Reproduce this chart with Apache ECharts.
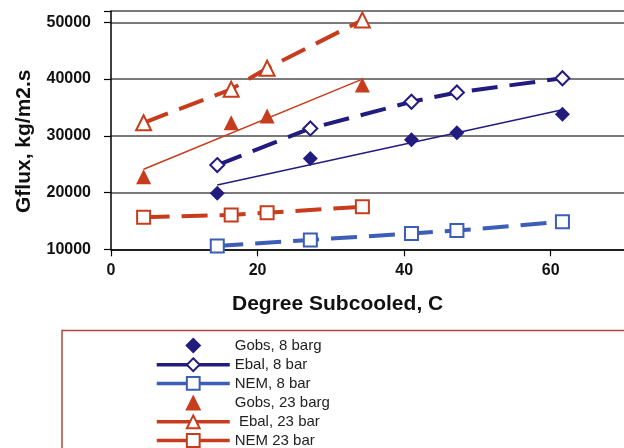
<!DOCTYPE html>
<html>
<head>
<meta charset="utf-8">
<script src="https://cdn.jsdelivr.net/npm/echarts@6/dist/echarts.min.js"></script>
<style>html,body{margin:0;padding:0;background:#fff}#c{width:624px;height:448px}</style>
</head>
<body>
<div id="c"></div>
<script>
// Degree subcooled (C) for each pressure
const x8 = [14.5, 27.2, 41.0, 47.2, 61.6];
const x23 = [4.45, 16.4, 21.3, 34.3];
// Gflux values, kg/m2.s
const gobs8 = [19900, 26000, 29300, 30550, 33800];
const ebal8 = [24850, 31300, 36000, 37650, 40150];
const nem8 = [10600, 11650, 12800, 13300, 14850];
const gobs23 = [22800, 32300, 33500, 38950];
const ebal23 = [32300, 38200, 41900, 50400];
const nem23 = [15650, 16050, 16450, 17500];
// trend line endpoints (x, Gflux)
const trend8 = [[14.5, 21350], [61.6, 34600]];
const trend23 = [[4.45, 24100], [34.3, 40000]];
const xTicks = [0, 20, 40, 60];
const yTicks = [10000, 20000, 30000, 40000, 50000];
const names = ['Gobs, 8 barg', 'Ebal, 8 bar', 'NEM, 8 bar', 'Gobs, 23 barg', ' Ebal, 23 bar', 'NEM 23 bar'];

const NAVY = '#221c7e', BLUE = '#3c5db8', RED = '#c63c1c';
const zip = (xs, ys) => xs.map((x, i) => [x, ys[i]]);
const DIAMOND = 'path://M0,-1L1,0L0,1L-1,0Z';
const TRIANGLE = 'path://M0,-1L1,1L-1,1Z';

const chart = echarts.init(document.getElementById('c'), null, {renderer: 'canvas'});
const dashed = (color) => ({color: color, width: 4, type: [26, 12]});

chart.setOption({
  animation: false,
  backgroundColor: '#fff',
  grid: {left: 111, top: 11, width: 516, height: 238.3, containLabel: false},
  xAxis: {
    type: 'value', min: 0, max: 70, interval: 20,
    axisLine: {onZero: false, lineStyle: {color: '#000', width: 1.5}},
    axisTick: {show: true, length: 7, lineStyle: {color: '#000', width: 1.2},
      customValues: xTicks},
    axisLabel: {margin: 13, fontFamily: 'Liberation Sans', fontWeight: 'bold', fontSize: 16, color: '#111',
      customValues: xTicks,
      formatter: v => (xTicks.indexOf(v) >= 0 ? String(v) : '')},
    splitLine: {show: false}
  },
  yAxis: {
    type: 'value', min: 10000, max: 52000, interval: 10000,
    axisLine: {show: true, lineStyle: {color: '#000', width: 1.5}},
    axisTick: {show: true, length: 7, lineStyle: {color: '#000', width: 1.2}},
    axisLabel: {margin: 20, fontFamily: 'Liberation Sans', fontWeight: 'bold', fontSize: 16, color: '#111',
      formatter: v => (yTicks.indexOf(v) >= 0 ? String(v) : '')},
    splitLine: {show: true, lineStyle: {color: '#7a7a7a', width: 1.8}}
  },
  legend: {
    orient: 'vertical', left: 155, top: 337.5, height: 140, padding: 0,
    itemWidth: 73, itemHeight: 16, itemGap: 3.7,
    symbolKeepAspect: true,
    lineStyle: {width: 3.5, type: 'solid'},
    data: [
      {name: names[0], icon: DIAMOND},
      {name: names[1]},
      {name: names[2]},
      {name: names[3], icon: TRIANGLE},
      {name: names[4]},
      {name: names[5]}
    ],
    textStyle: {fontFamily: 'Liberation Sans', fontSize: 15, color: '#222'}
  },
  series: [
    {name: 'trend8', type: 'line', data: trend8, showSymbol: false, symbol: 'none',
      lineStyle: {color: NAVY, width: 1.5}, z: 1, silent: true},
    {name: 'trend23', type: 'line', data: trend23, showSymbol: false, symbol: 'none',
      lineStyle: {color: RED, width: 1.5}, z: 1, silent: true},
    {name: names[0], type: 'scatter', data: zip(x8, gobs8), symbol: 'diamond', symbolSize: 15,
      itemStyle: {color: NAVY, opacity: 1}, z: 5},
    {name: names[1], type: 'line', data: zip(x8, ebal8), symbol: 'emptyDiamond', symbolSize: 14,
      lineStyle: dashed(NAVY), itemStyle: {color: NAVY, borderWidth: 2.2}, z: 4},
    {name: names[2], type: 'line', data: zip(x8, nem8), symbol: 'emptyRect', symbolSize: 13,
      lineStyle: dashed(BLUE), itemStyle: {color: BLUE, borderWidth: 2}, z: 4},
    {name: names[3], type: 'scatter', data: zip(x23, gobs23), symbol: 'triangle', symbolSize: 15,
      itemStyle: {color: RED, opacity: 1}, z: 5},
    {name: names[4], type: 'line', data: zip(x23, ebal23), symbol: 'emptyTriangle', symbolSize: 15,
      lineStyle: dashed(RED), itemStyle: {color: RED, borderWidth: 2.2}, z: 4},
    {name: names[5], type: 'line', data: zip(x23, nem23), symbol: 'emptyRect', symbolSize: 13,
      lineStyle: dashed(RED), itemStyle: {color: RED, borderWidth: 2}, z: 4}
  ],
  graphic: [
    {type: 'text', left: 232, top: 294, style: {text: 'Degree Subcooled, C', font: 'bold 21px "Liberation Sans"', fill: '#111'}},
    {type: 'text', rotation: Math.PI / 2, x: 14, y: 213, style: {text: 'Gflux, kg/m2.s', font: 'bold 21px "Liberation Sans"', fill: '#111'}},
    {type: 'rect', shape: {x: 62, y: 330.5, width: 620, height: 150},
      style: {fill: 'none', stroke: '#b5453f', lineWidth: 1.5}, z: -1}
  ]
});
</script>
</body>
</html>
